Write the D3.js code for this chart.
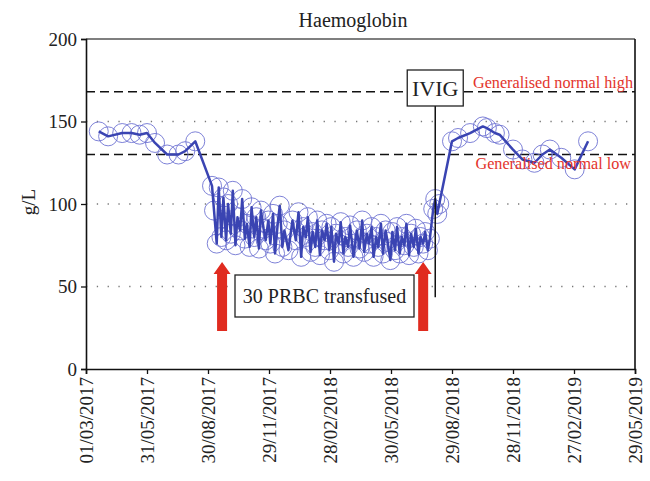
<!DOCTYPE html>
<html><head><meta charset="utf-8">
<script src="https://cdn.jsdelivr.net/npm/d3@7/dist/d3.min.js"></script>
<style>
html,body{margin:0;padding:0;background:#fff;}
svg{display:block;font-family:"Liberation Serif","DejaVu Serif",serif;}
</style></head>
<body><svg id="chart" width="650" height="481"></svg>
<script>
// ---------- DATA ----------
const title = "Haemoglobin";
const yLabel = "g/L";
const xTickLabels = ["01/03/2017","31/05/2017","30/08/2017","29/11/2017","28/02/2018","30/05/2018","29/08/2018","28/11/2018","27/02/2019","29/05/2019"];
const yTicks = [0, 50, 100, 150, 200];
const gridValues = [50, 100, 150];
const normalHigh = 168;
const normalLow = 130;

const dates = [
 "2017-03-20","2017-04-03","2017-04-24","2017-05-08","2017-05-20","2017-05-31","2017-06-12","2017-06-30","2017-07-17","2017-07-27","2017-08-11","2017-09-05",
 "2017-09-08","2017-09-12","2017-09-15","2017-09-19","2017-09-22","2017-09-26","2017-09-29",
 "2017-10-03","2017-10-06","2017-10-10","2017-10-13","2017-10-17","2017-10-20","2017-10-24","2017-10-27","2017-10-31",
 "2017-11-03","2017-11-07","2017-11-10","2017-11-14","2017-11-17","2017-11-21","2017-11-24","2017-11-28",
 "2017-12-01","2017-12-05","2017-12-08","2017-12-12","2017-12-15","2017-12-19","2017-12-22","2017-12-28",
 "2018-01-03","2018-01-08","2018-01-12","2018-01-16","2018-01-19","2018-01-23","2018-01-26","2018-01-30",
 "2018-02-02","2018-02-06","2018-02-09","2018-02-13","2018-02-16","2018-02-20","2018-02-23","2018-02-27",
 "2018-03-02","2018-03-06","2018-03-09","2018-03-13","2018-03-16","2018-03-20","2018-03-23","2018-03-27","2018-03-30",
 "2018-04-04","2018-04-09","2018-04-13","2018-04-17","2018-04-20","2018-04-24","2018-04-27",
 "2018-05-01","2018-05-04","2018-05-08","2018-05-11","2018-05-15","2018-05-18","2018-05-22","2018-05-25","2018-05-29",
 "2018-06-01","2018-06-05","2018-06-08","2018-06-12","2018-06-15","2018-06-19","2018-06-22","2018-06-26","2018-06-29",
 "2018-07-03","2018-07-06","2018-07-10","2018-07-13","2018-07-17","2018-07-20","2018-07-24","2018-07-27",
 "2018-08-01","2018-08-04","2018-08-07","2018-08-10","2018-08-29","2018-09-07","2018-09-25","2018-10-14","2018-10-20",
 "2018-11-01","2018-11-08","2018-11-28","2018-12-12","2018-12-30","2019-01-11","2019-01-22","2019-02-08","2019-02-28","2019-03-20"
];
const hb = [
 144,141,143,143,142,143,137,130,130,132,138,111,
 96,76,110,80,104,78,100,
 82,108,75,92,84,103,79,88,74,
 98,80,92,73,96,85,78,90,
 76,94,70,88,99,74,84,72,
 90,78,95,68,86,80,92,71,
 83,74,90,69,84,78,88,72,
 86,65,82,76,89,70,80,74,87,
 68,84,73,90,71,82,76,
 86,68,80,74,88,70,84,77,66,
 83,72,86,70,80,75,88,69,82,
 74,85,70,80,76,83,72,79,
 97,103,94,100,138,140,143,147,146,
 143,142,133,127,125,130,133,128,121,138
];

const arrowDates = ["2017-09-20","2018-07-17"];
const ivigDate = "2018-08-04";
const prbcText = "30 PRBC transfused";
const ivigText = "IVIG";
const highText = "Generalised normal high";
const lowText = "Generalised normal low";

// ---------- CHART ----------
const W = 650, H = 481;
const margin = {left: 86, right: 15, top: 39, bottom: 112};
const svg = d3.select("#chart");
const parseTick = d3.utcParse("%d/%m/%Y");
const parseISO = d3.utcParse("%Y-%m-%d");
const tickDates = xTickLabels.map(parseTick);

const x = d3.scaleUtc()
  .domain([tickDates[0], tickDates[tickDates.length-1]])
  .range([margin.left, W - margin.right]);
const y = d3.scaleLinear().domain([0, 200]).range([H - margin.bottom, margin.top]);

const data = dates.map((d,i)=>({date: parseISO(d), v: hb[i]}));

// grid (dotted)
svg.append("g").selectAll("line").data(gridValues).join("line")
  .attr("x1", margin.left).attr("x2", W - margin.right)
  .attr("y1", d=>y(d)).attr("y2", d=>y(d))
  .attr("stroke", "#777").attr("stroke-width", 1.3)
  .attr("stroke-dasharray", "1.3,9.5");

// normal range dashed lines
svg.append("g").selectAll("line").data([normalHigh, normalLow]).join("line")
  .attr("x1", margin.left).attr("x2", W - margin.right)
  .attr("y1", d=>y(d)).attr("y2", d=>y(d))
  .attr("stroke", "#111").attr("stroke-width", 1.6)
  .attr("stroke-dasharray", "9,5");

// frame top (gray) and right (black)
svg.append("line").attr("x1", margin.left).attr("x2", W - margin.right)
  .attr("y1", y(200)).attr("y2", y(200)).attr("stroke", "#555").attr("stroke-width", 1.6);
svg.append("line").attr("x1", W - margin.right).attr("x2", W - margin.right)
  .attr("y1", y(200)).attr("y2", y(0)).attr("stroke", "#111").attr("stroke-width", 1.6);

// circles
svg.append("g").selectAll("circle").data(data).join("circle")
  .attr("cx", d=>x(d.date)).attr("cy", d=>y(d.v)).attr("r", 9.5)
  .attr("fill", "none").attr("stroke", "#6f74d2").attr("stroke-width", 0.9);

// line
svg.append("path").datum(data)
  .attr("d", d3.line().x(d=>x(d.date)).y(d=>y(d.v)))
  .attr("fill", "none").attr("stroke", "#3a44b2").attr("stroke-width", 2.5)
  .attr("stroke-linejoin", "round");

// axes
const yAxis = d3.axisLeft(y).tickValues(yTicks).tickSize(5).tickPadding(4).tickFormat(d3.format("d"));
const gy = svg.append("g").attr("transform", `translate(${margin.left},0)`).call(yAxis);
gy.select(".domain").attr("stroke", "#111").attr("stroke-width", 1.6);
gy.selectAll(".tick line").attr("stroke", "#111").attr("stroke-width", 1.3);
gy.selectAll("text").attr("font-size", 19).attr("fill", "#222")
  .attr("font-family", "Liberation Serif, serif");

const xAxis = d3.axisBottom(x).tickValues(tickDates).tickSize(5)
  .tickFormat((d,i)=>xTickLabels[i]);
const gx = svg.append("g").attr("transform", `translate(0,${y(0)})`).call(xAxis);
gx.select(".domain").attr("stroke", "#111").attr("stroke-width", 1.6);
gx.selectAll(".tick line").attr("stroke", "#111").attr("stroke-width", 1.3);
gx.selectAll("text").attr("font-size", 19).attr("fill", "#222")
  .attr("font-family", "Liberation Serif, serif")
  .attr("text-anchor", "end").attr("dy", "0.35em")
  .attr("transform", "translate(0,8) rotate(-90)")
  .attr("x", 0).attr("y", 0);

// title & y label
svg.append("text").attr("x", 353).attr("y", 27).attr("text-anchor", "middle")
  .attr("font-size", 20).attr("fill", "#222").text(title);
svg.append("text").attr("transform", "translate(35,202) rotate(-90)")
  .attr("text-anchor", "middle").attr("font-size", 19).attr("fill", "#222").text(yLabel);

// normal labels
svg.append("text").attr("x", W - margin.right - 2).attr("y", y(normalHigh) - 4)
  .attr("text-anchor", "end").attr("font-size", 16.2).attr("fill", "#e3342c").text(highText);
svg.append("text").attr("x", W - margin.right - 4).attr("y", y(normalLow) + 14)
  .attr("text-anchor", "end").attr("font-size", 16.2).attr("fill", "#e3342c").text(lowText);

// IVIG line and box
const xi = x(parseISO(ivigDate));
svg.append("line").attr("x1", xi).attr("x2", xi).attr("y1", 105).attr("y2", y(43.5))
  .attr("stroke", "#111").attr("stroke-width", 1.5);
svg.append("rect").attr("x", xi - 28).attr("y", 70).attr("width", 56).attr("height", 36)
  .attr("fill", "#fff").attr("stroke", "#222").attr("stroke-width", 1.3);
svg.append("text").attr("x", xi).attr("y", 96).attr("text-anchor", "middle")
  .attr("font-size", 22).attr("fill", "#222").text(ivigText);

// arrows
svg.append("g").selectAll("path").data(arrowDates).join("path")
  .attr("d", d=>{
    const cx = x(parseISO(d)), top = 262, hb2 = 274, bot = 331;
    return `M${cx},${top} L${cx+8.5},${hb2} L${cx+5},${hb2} L${cx+5},${bot} L${cx-5},${bot} L${cx-5},${hb2} L${cx-8.5},${hb2} Z`;
  })
  .attr("fill", "#e02b1f");

// PRBC box
svg.append("rect").attr("x", 235).attr("y", 275).attr("width", 179).attr("height", 42)
  .attr("fill", "#fff").attr("stroke", "#222").attr("stroke-width", 1.3);
svg.append("text").attr("x", 324.5).attr("y", 303).attr("text-anchor", "middle")
  .attr("font-size", 20).attr("fill", "#222").text(prbcText);
</script></body></html>
